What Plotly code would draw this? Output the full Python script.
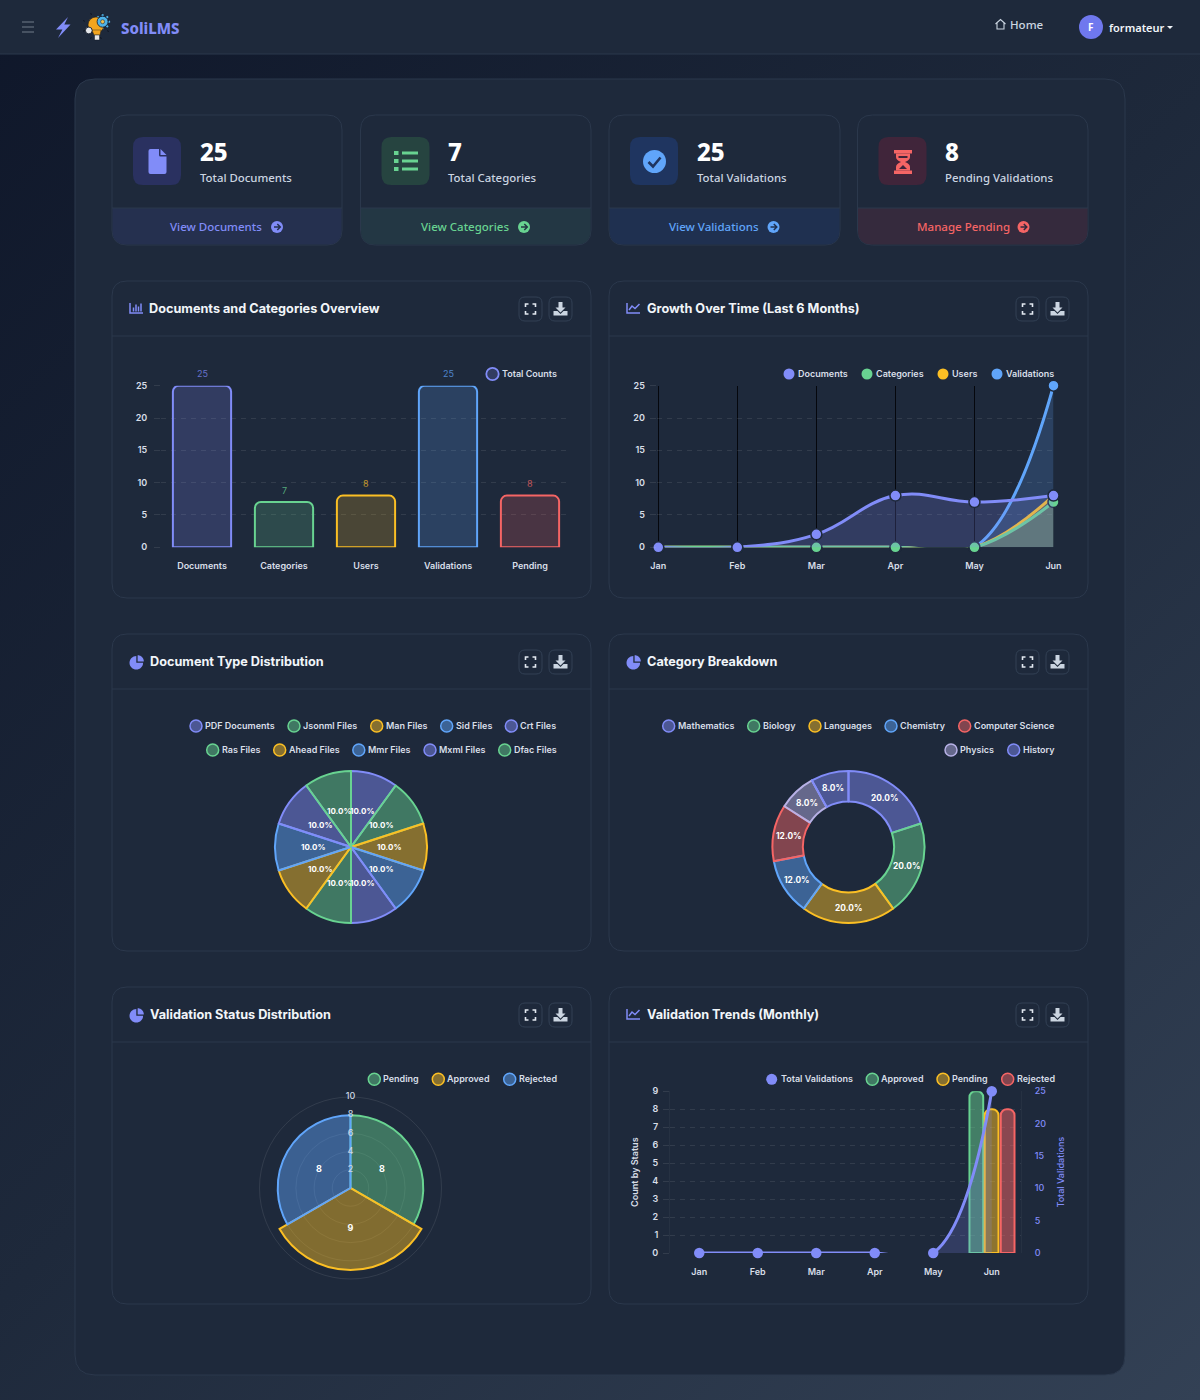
import math
import plotly.graph_objects as go

INDIGO = "#818cf8"
GREEN = "#68d391"
YELLOW = "#fbbf24"
BLUE = "#60a5fa"
RED = "#f56565"
LAVENDER = "#b7b1e6"
CARD = "#1e293b"
BORDER = "#2b384c"
LABEL = "#d8dee8"
GRID = "rgba(255,255,255,0.09)"

# chart data
overview_labels = ["Documents", "Categories", "Users", "Validations", "Pending"]
overview_values = [25, 7, 8, 25, 8]

months = ["Jan", "Feb", "Mar", "Apr", "May", "Jun"]
growth_documents = [0, 0, 2, 8, 7, 8]
growth_categories = [0, 0, 0, 0, 0, 7]
growth_users = [0, 0, 0, 0, 0, 8]
growth_validations = [0, 0, 0, 0, 0, 25]

doc_types = ["PDF Documents", "Jsonml Files", "Man Files", "Sid Files", "Crt Files",
             "Ras Files", "Ahead Files", "Mmr Files", "Mxml Files", "Dfac Files"]
doc_counts = [1, 1, 1, 1, 1, 1, 1, 1, 1, 1]

categories = ["Mathematics", "Biology", "Languages", "Chemistry", "Computer Science", "Physics", "History"]
category_counts = [5, 5, 5, 3, 3, 2, 2]

status_labels = ["Pending", "Approved", "Rejected"]
status_counts = [8, 9, 8]

trend_total = [0, 0, 0, 0, 0, 25]
trend_approved = [0, 0, 0, 0, 0, 9]
trend_pending = [0, 0, 0, 0, 0, 8]
trend_rejected = [0, 0, 0, 0, 0, 8]


def rgba(hex_color, alpha):
    h = hex_color.lstrip("#")
    return f"rgba({int(h[:2], 16)},{int(h[2:4], 16)},{int(h[4:], 16)},{alpha})"


shapes = []
notes = []


def path(d, fill="rgba(0,0,0,0)", line="rgba(0,0,0,0)", w=0):
    shapes.append(dict(type="path", xref="x", yref="y", path=d, fillcolor=fill,
                       line=dict(color=line, width=w), layer="below"))


def rrect(x0, y0, x1, y1, r, fill, line="rgba(0,0,0,0)", w=0, top=True, bottom=True):
    rt = r if top else 0
    rb = r if bottom else 0
    d = (f"M{x0} {y0 + rt} Q{x0} {y0} {x0 + rt} {y0} H{x1 - rt} Q{x1} {y0} {x1} {y0 + rt} "
         f"V{y1 - rb} Q{x1} {y1} {x1 - rb} {y1} H{x0 + rb} Q{x0} {y1} {x0} {y1 - rb} Z")
    path(d, fill, line, w)


def circle(cx, cy, r, fill, line="rgba(0,0,0,0)", w=0):
    shapes.append(dict(type="circle", xref="x", yref="y", x0=cx - r, x1=cx + r, y0=cy - r, y1=cy + r,
                       fillcolor=fill, line=dict(color=line, width=w), layer="below"))


def txt(x, y, s, size=9, color=LABEL, weight=600, anchor="left", font="Inter"):
    notes.append(dict(x=x, y=y, xref="x", yref="y", text=s, showarrow=False, xanchor=anchor, yanchor="middle",
                      borderpad=0, borderwidth=0,
                      font=dict(family=font, size=size, color=color, weight=weight)))


def legend_item(x, y, name, color, solid=False, alpha=0.47):
    if solid:
        circle(x, y, 5.5, color)
    else:
        circle(x, y, 6, rgba(color, alpha), color, 1.5)
    txt(x + 9, y - 0.6, name)


def wedge(cx, cy, r, a0, a1):
    pts = [f"M{cx} {cy}"]
    for i in range(25):
        a = math.radians(a0 + (a1 - a0) * i / 24)
        pts.append(f"L{cx + r * math.sin(a):.2f} {cy - r * math.cos(a):.2f}")
    return " ".join(pts) + " Z"


def slice_labels(values, cx, cy, r, size):
    total = sum(values)
    run = 0
    for v in values:
        mid = math.radians((run + v / 2) / total * 360)
        run += v
        txt(cx + r * math.sin(mid), cy - r * math.cos(mid), f"{v / total * 100:.1f}%", size, "#ffffff", 700, "center")


def chart_card(x0, y0, title, icon):
    x1 = x0 + 479
    rrect(x0, y0, x1, y0 + 317, 15, CARD, BORDER, 1)
    path(f"M{x0} {y0 + 55} H{x1}", line=BORDER, w=1)
    ix = x0 + 18
    cy = y0 + 28
    if icon == "bar":
        path(f"M{ix} {cy - 6} V{cy + 4} H{ix + 13}", line=INDIGO, w=1.5)
        for dx, h in zip((3.5, 6, 8.5, 11), (4, 7, 5, 8)):
            path(f"M{ix + dx} {cy + 2.5} V{cy + 2.5 - h}", line=INDIGO, w=1.5)
    elif icon == "line":
        path(f"M{ix} {cy - 6} V{cy + 4} H{ix + 13}", line=INDIGO, w=1.5)
        path(f"M{ix + 2} {cy + 1} L{ix + 5} {cy - 3} L{ix + 8} {cy - 0.5} L{ix + 12.5} {cy - 5}", line=INDIGO, w=1.5)
    else:
        path(wedge(ix + 6.3, cy + 0.8, 6.8, 90, 360), INDIGO)
        path(wedge(ix + 7.6, cy - 0.6, 6.2, 0, 90), INDIGO)
    title_x = x0 + (37 if icon == "bar" else 38)
    txt(title_x, cy - 0.5, title, 12.7, "#f1f5f9", 700)
    for bx in (x1 - 72, x1 - 42):
        rrect(bx, y0 + 16, bx + 23, y0 + 40, 6, CARD, "#334155", 1)
    cx, my = x1 - 60.5, y0 + 28
    for sx in (-1, 1):
        for sy in (-1, 1):
            path(f"M{cx + sx * 5} {my + sy * 2} V{my + sy * 5} H{cx + sx * 2}", line="#e2e8f0", w=1.6)
    cx = x1 - 30.5
    path(f"M{cx - 2} {my - 7} H{cx + 2} V{my - 1.5} H{cx + 5} L{cx} {my + 3.5} L{cx - 5} {my - 1.5} H{cx - 2} Z", "#cbd5e1")
    path(f"M{cx - 7} {my + 2} H{cx - 3} L{cx} {my + 5} L{cx + 3} {my + 2} H{cx + 7} V{my + 6.5} H{cx - 7} Z", "#cbd5e1")


def kpi_card(x0, x1, value, label, link, color, tile, foot, link_center):
    rrect(x0, 115, x1, 245, 15, CARD, BORDER, 1)
    rrect(x0 + 0.5, 208, x1 - 0.5, 244.5, 14, foot, top=False)
    path(f"M{x0} 208 H{x1}", line=BORDER, w=1)
    rrect(x0 + 21, 137, x0 + 69, 185, 10, tile)
    txt(x0 + 87.5, 151.5, value, 24, "#ffffff", 800, font="Noto Sans")
    txt(x0 + 87.5, 177.4, label, 11.4, "#cbd5e1", 500, font="Noto Sans")
    txt(link_center, 226.4, link, 11.5, color, 500, "center", "Noto Sans")


# page frame
path("M0 0 H1200 V54 H0 Z", CARD)
path("M0 54 H1200", line=BORDER, w=1)
rrect(75, 79, 1125, 1375, 20, CARD, BORDER, 1)

# navbar
for ny in (22, 27, 32):
    path(f"M22 {ny} H34", line="#566171", w=1.5)
path("M68 17 L56 29.5 L62.4 29.5 L58 38 L70.5 24.5 L64.3 24.5 Z", INDIGO)
for deg in range(0, 360, 45):
    a = math.radians(deg)
    path(f"M{102.6 + 5.5 * math.cos(a):.1f} {21.7 + 5.5 * math.sin(a):.1f} L{102.6 + 7.5 * math.cos(a):.1f} {21.7 + 7.5 * math.sin(a):.1f}",
         line="#4fb3e8", w=2)
    path(f"M{96 + 12 * math.cos(a + 0.4):.1f} {26 + 12 * math.sin(a + 0.4):.1f} L{96 + 14 * math.cos(a + 0.4):.1f} {26 + 14 * math.sin(a + 0.4):.1f}",
         line="#0b0f19", w=0.8)
circle(96, 25, 8, "#f2a51f", "#1a1a1a", 0.6)
path("M92 30 H101 L100 35 H94 Z", "#f2a51f", "#1a1a1a", 0.4)
path("M94.5 35 H99.5 V40 H94.5 Z", "#e8e8e8", "#111827", 0.5)
circle(102.6, 21.7, 5.5, "#4fb3e8", "#0f172a", 0.8)
circle(102.6, 21.7, 2, "#f2c14e", "#0f172a", 0.5)
circle(88.8, 30.5, 3.4, "#e5e7eb", "#111827", 0.9)
txt(121, 28, "SoliLMS", 15, INDIGO, 800, font="Noto Sans")
path("M995.5 24 L1000.5 19.5 L1005.5 24 M997 23 V29 H1004 V23", line="#cbd5e1", w=1.1)
txt(1010, 24, "Home", 11.5, "#cbd5e1", 500, font="Noto Sans")
circle(1091, 27, 12, "#6f78ee")
txt(1091, 27, "F", 10, "#ffffff", 700, "center", "Noto Sans")
txt(1109, 27.5, "formateur", 11, "#f1f5f9", 600, font="Noto Sans")
path("M1167 26 H1173 L1170 29 Z", "#f1f5f9")

# stat cards
kpi_card(112, 342, "25", "Total Documents", "View Documents", INDIGO, "#2a3160", "#25304f", 216)
kpi_card(360.5, 591, "7", "Total Categories", "View Categories", GREEN, "#264440", "#233744", 465)
kpi_card(609, 840, "25", "Total Validations", "View Validations", BLUE, "#1f3560", "#1f3050", 714)
kpi_card(857.5, 1088, "8", "Pending Validations", "Manage Pending", RED, "#40253a", "#352a3d", 963)

path("M148.5 151 Q148.5 149 150.5 149 H159 V155 Q159 156.5 160.5 156.5 H166.5 V172 Q166.5 174 164.5 174 H150.5 Q148.5 174 148.5 172 Z", INDIGO)
path("M160.5 149 L166.5 155 H160.5 Z", INDIGO)
for ly in (153, 161, 169):
    path(f"M394 {ly - 2} H398.5 V{ly + 2} H394 Z", GREEN)
    path(f"M402 {ly - 1.5} H418 V{ly + 1.5} H402 Z", GREEN)
circle(654.5, 161.5, 11.5, BLUE)
path("M648.5 162 L653 166.5 L660.5 157.5", line="#1f3560", w=2.6)
path("M894 150 H912 V153.5 H894 Z M894 170.5 H912 V174 H894 Z", RED)
path("M896 153.5 H910 V157 Q910 160 905 162 Q910 164 910 167 V170.5 H896 V167 Q896 164 901 162 Q896 160 896 157 Z", RED)
path("M898.5 156 H907.5 V158 H898.5 Z M903 165 L907 169 H899 Z", "#40253a")

for ax, col, foot in ((277, INDIGO, "#25304f"), (524, GREEN, "#233744"), (773.5, BLUE, "#1f3050"), (1023.5, RED, "#352a3d")):
    circle(ax, 227, 6, col)
    path(f"M{ax - 3} 227 H{ax + 3} M{ax + 0.3} 224 L{ax + 3.3} 227 L{ax + 0.3} 230", line=foot, w=1.5)

# chart cards
chart_card(112, 281, "Documents and Categories Overview", "bar")
chart_card(609, 281, "Growth Over Time (Last 6 Months)", "line")
chart_card(112, 634, "Document Type Distribution", "pie")
chart_card(609, 634, "Category Breakdown", "pie")
chart_card(112, 987, "Validation Status Distribution", "pie")
chart_card(609, 987, "Validation Trends (Monthly)", "line")

# legends
circle(492.5, 374, 6.2, rgba(INDIGO, 0.2), INDIGO, 1.8)
txt(502, 373.4, "Total Counts")
for lx, name, col in zip((789, 867, 943, 997), ("Documents", "Categories", "Users", "Validations"), (INDIGO, GREEN, YELLOW, BLUE)):
    legend_item(lx, 374, name, col, solid=True)

doc_colors = [INDIGO, GREEN, YELLOW, BLUE] * 2 + [INDIGO, GREEN]
doc_legend_x = [196, 294, 376.7, 446.7, 511.3, 212.7, 279.7, 358.8, 430, 504.7]
for i, name in enumerate(doc_types):
    legend_item(doc_legend_x[i], 726 if i < 5 else 750, name, doc_colors[i])

cat_colors = [INDIGO, GREEN, YELLOW, BLUE, RED, LAVENDER, INDIGO]
cat_legend_x = [668.7, 753.7, 815, 891, 964.7, 951, 1013.7]
for i, name in enumerate(categories):
    legend_item(cat_legend_x[i], 726 if i < 5 else 750, name, cat_colors[i])

status_colors = [GREEN, YELLOW, BLUE]
for lx, name, col in zip((374.3, 438.3, 509.7), status_labels, status_colors):
    legend_item(lx, 1079.3, name, col)

legend_item(771.7, 1079.3, "Total Validations", INDIGO, solid=True)
for lx, name, col in zip((872.3, 943, 1007.7), ("Approved", "Pending", "Rejected"), (GREEN, YELLOW, RED)):
    legend_item(lx, 1079.3, name, col)

fig = go.Figure()
# page-sized axes used only for the frame, icons and legends
fig.add_trace(go.Scatter(x=[], y=[], xaxis="x", yaxis="y", hoverinfo="skip", showlegend=False))

# overview bars
bar_colors = [INDIGO, GREEN, YELLOW, BLUE, RED]
fig.add_trace(go.Bar(x=overview_labels, y=overview_values, xaxis="x2", yaxis="y2", name="Total Counts", width=0.71,
                     marker=dict(color=[rgba(c, 0.2) for c in bar_colors], line=dict(color=bar_colors, width=2)),
                     cliponaxis=False, showlegend=False))
for lab, val, col in zip(overview_labels, overview_values, bar_colors):
    notes.append(dict(x=lab, y=val, xref="x2", yref="y2", yshift=12, text=str(val), showarrow=False,
                      font=dict(family="Inter", size=9, color=rgba(col, 0.75))))

# growth lines, first series painted last as in the original
growth = [("Validations", growth_validations, BLUE), ("Users", growth_users, YELLOW),
          ("Categories", growth_categories, GREEN), ("Documents", growth_documents, INDIGO)]
for name, vals, col in growth:
    fig.add_trace(go.Scatter(x=months, y=vals, name=name, xaxis="x3", yaxis="y3", mode="lines+markers",
                             line=dict(color=col, width=3, shape="spline", smoothing=1.2),
                             marker=dict(size=11, color=col, line=dict(color=CARD, width=1.5)),
                             fill="tozeroy", fillcolor=rgba(col, 0.2), cliponaxis=False, showlegend=False))

# document types pie
fig.add_trace(go.Pie(labels=doc_types, values=doc_counts, sort=False, direction="clockwise", rotation=0,
                     domain=dict(x=[275 / 1200, 427 / 1200], y=[1 - 923 / 1400, 1 - 771 / 1400]),
                     textinfo="none", showlegend=False, automargin=False,
                     marker=dict(colors=[rgba(c, 0.47) for c in doc_colors], line=dict(color=doc_colors, width=2))))
slice_labels(doc_counts, 351, 847, 38, 8)

# categories doughnut
fig.add_trace(go.Pie(labels=categories, values=category_counts, sort=False, direction="clockwise", rotation=0, hole=0.6,
                     domain=dict(x=[772.5 / 1200, 924.5 / 1200], y=[1 - 923 / 1400, 1 - 771 / 1400]),
                     textinfo="none", showlegend=False, automargin=False,
                     marker=dict(colors=[rgba(c, 0.47) for c in cat_colors], line=dict(color=cat_colors, width=2))))
slice_labels(category_counts, 848.5, 847, 60.7, 8.4)

# validation status polar area
status_theta = [60, 180, 300]
fig.add_trace(go.Barpolar(r=status_counts, theta=status_theta, width=[120, 120, 120], subplot="polar",
                          text=status_labels, showlegend=False,
                          marker=dict(color=[rgba(c, 0.45) for c in status_colors],
                                      line=dict(color=status_colors, width=2))))
fig.add_trace(go.Scatterpolar(r=[v / 2 for v in status_counts], theta=status_theta, text=status_counts, mode="text",
                              subplot="polar", showlegend=False, hoverinfo="skip",
                              textfont=dict(family="Inter", size=9, color="#ffffff", weight=700)))
radial_ticks = [2, 4, 6, 8, 10]
fig.add_trace(go.Scatterpolar(r=radial_ticks, theta=[0] * 5, text=radial_ticks, mode="text", subplot="polar",
                              showlegend=False, hoverinfo="skip", cliponaxis=False,
                              textfont=dict(family="Inter", size=9, color="#cbd5e1", weight=500)))

# monthly trends
for name, vals, col, off in (("Approved", trend_approved, GREEN, -0.381), ("Pending", trend_pending, YELLOW, -0.12),
                             ("Rejected", trend_rejected, RED, 0.154)):
    fig.add_trace(go.Bar(x=months, y=vals, name=name, xaxis="x4", yaxis="y4", width=0.235, offset=off,
                         marker=dict(color=rgba(col, 0.5), line=dict(color=col, width=[2 if v else 0 for v in vals])),
                         cliponaxis=False, showlegend=False))
fig.add_trace(go.Scatter(x=months, y=trend_total, name="Total Validations", xaxis="x4", yaxis="y5", mode="lines+markers",
                         line=dict(color=INDIGO, width=3, shape="spline", smoothing=1.2),
                         marker=dict(size=10.5, color=INDIGO), fill="tozeroy", fillcolor=rgba(INDIGO, 0.2),
                         cliponaxis=False, showlegend=False))

tick_font = dict(family="Inter", size=9, color=LABEL, weight=600)


def dom_x(a, b):
    return [a / 1200, b / 1200]


def dom_y(top, bot):
    return [1 - bot / 1400, 1 - top / 1400]


def x_axis(anchor, domain, rng):
    return dict(anchor=anchor, domain=domain, range=rng, type="category", showgrid=False, zeroline=False, showline=False,
                automargin=False, ticks="outside", ticklen=10, tickcolor="rgba(0,0,0,0)", tickfont=tick_font, fixedrange=True)


def y_axis(anchor, domain, rng, dtick):
    return dict(anchor=anchor, domain=domain, range=rng, dtick=dtick, showgrid=True, gridcolor=GRID, griddash="5px,5px",
                automargin=False, gridwidth=1, zeroline=False, showline=False, ticks="outside", ticklen=6, tickcolor=GRID,
                ticklabelstandoff=5, tickfont=tick_font, fixedrange=True)


# plotly drops grid lines within a pixel of the axis ends, so Jan needs a little room
x3 = x_axis("y3", dom_x(656.7, 1053.5), [-0.02, 5])
x3["minor"] = dict(tickvals=[0, 1, 2, 3, 4], showgrid=True, gridcolor="#05070d", gridwidth=1, griddash="solid", ticks="")
y3 = y_axis("x3", dom_y(385.7, 547.3), [0, 25], 5)
y3["ticklabelstandoff"] = 3

y4 = y_axis("x4", dom_y(1091.3, 1253), [0, 9], 1)
y4.update(ticklabelstandoff=3, showline=True, linecolor="rgba(255,255,255,0.04)")
y4["title"] = dict(text="Count by Status", standoff=12, font=dict(family="Inter", size=9, color=LABEL, weight=600))
y5 = y_axis("x4", dom_y(1091.3, 1253), [0, 25], 5)
y5.update(overlaying="y4", side="right", showgrid=False, ticklen=8, tickcolor="rgba(0,0,0,0)", ticklabelstandoff=3,
          showline=True, linecolor="rgba(255,255,255,0.04)",
          tickfont=dict(family="Inter", size=9, color=INDIGO, weight=500))
y5["title"] = dict(text="Total Validations", standoff=12, font=dict(family="Inter", size=9, color=INDIGO, weight=500))

fig.update_layout(
    width=1200, height=1400, margin=dict(l=0, r=0, t=0, b=0, pad=0), autosize=False,
    paper_bgcolor="rgba(0,0,0,0)", plot_bgcolor="rgba(0,0,0,0)", showlegend=False, barmode="overlay", barcornerradius=6,
    hovermode=False,
    xaxis=dict(domain=[0, 1], range=[0, 1200], visible=False, fixedrange=True, automargin=False),
    yaxis=dict(domain=[0, 1], range=[1400, 0], visible=False, fixedrange=True, automargin=False),
    xaxis2=x_axis("y2", dom_x(161, 571), [-0.5, 4.5]),
    yaxis2=y_axis("x2", dom_y(385.7, 547.3), [0, 25], 5),
    xaxis3=x3,
    yaxis3=y3,
    xaxis4=x_axis("y4", dom_x(670, 1021), [-0.5, 5.5]),
    yaxis4=y4,
    yaxis5=y5,
    polar=dict(domain=dict(x=dom_x(259.5, 441.5), y=dom_y(1097, 1279)), bgcolor="rgba(0,0,0,0)",
               radialaxis=dict(range=[0, 10], dtick=2, showline=False, showticklabels=False, ticks="", gridcolor=GRID),
               angularaxis=dict(direction="clockwise", rotation=90, showticklabels=False, ticks="", showgrid=False,
                                showline=True, linecolor=GRID)),
    shapes=shapes, annotations=notes,
)

# page gradient sits behind the transparent figure
page_js = """
document.documentElement.style.overflow = 'hidden';
document.body.style.margin = '0';
document.body.style.height = '1400px';
document.body.style.background = 'linear-gradient(135deg,#0f172a 0%,#1e293b 50%,#334155 100%)';
"""
fig.write_html("out.html", post_script=page_js, config=dict(displayModeBar=False))
